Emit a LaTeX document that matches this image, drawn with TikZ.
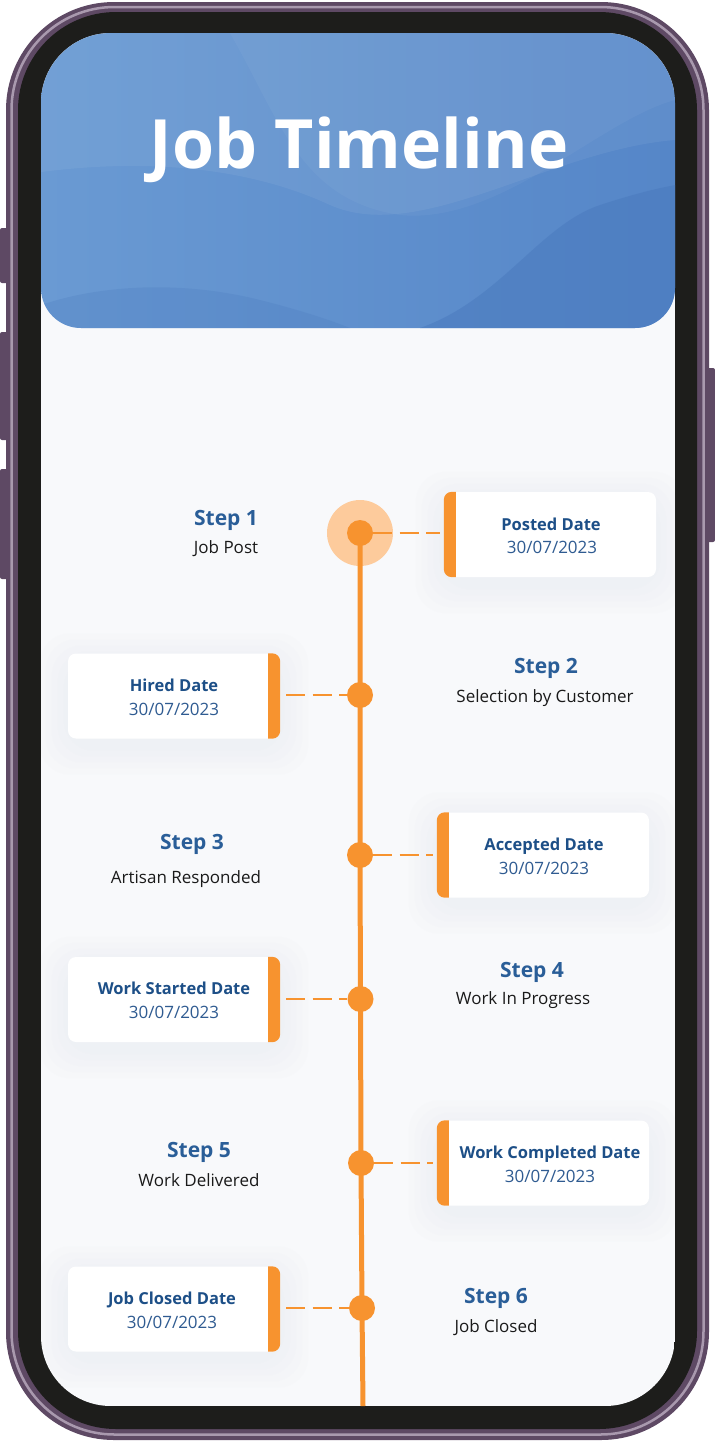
\documentclass[tikz,border=0pt]{standalone}
\usepackage{fontspec}
\setmainfont{Open Sans}
\usetikzlibrary{calc}
\definecolor{orng}{HTML}{F7932F}
\definecolor{halo}{HTML}{FDCB9C}
\definecolor{frameP}{HTML}{5E4964}
\definecolor{frameL}{HTML}{A999AE}
\definecolor{bezel}{HTML}{1D1D1B}
\definecolor{screenbg}{HTML}{F8F9FB}
\definecolor{hdrL}{HTML}{6A9AD3}
\definecolor{hdrR}{HTML}{5586C8}
\definecolor{hdrD}{HTML}{4A7ABE}
\definecolor{stepblue}{HTML}{2A5E98}
\definecolor{cardblue}{HTML}{1D4F87}
\definecolor{dateblue}{HTML}{2F5B91}
\definecolor{subtxt}{HTML}{1A1A1A}
\definecolor{shad}{HTML}{E3E7EE}
\pgfdeclarelayer{back}
\pgfdeclarelayer{shadow}
\pgfsetlayers{back,shadow,main}
\newcommand\cshadow[1]{%
  \begin{pgfonlayer}{shadow}
  \begin{scope}
  \clip[rounded corners=70pt] (41,33) rectangle (675,1406);
  \foreach \d in {28,22,16,10,4}{
    \fill[shad, opacity=0.08, rounded corners=30pt] ($(#1.north west)+(-\d,-\d+8)$) rectangle ($(#1.south east)+(\d,\d+8)$);
  }
  \end{scope}
  \end{pgfonlayer}}
\newcommand\barleft[1]{%
  \fill[orng] ($(#1.north west)+(12,0)$) [rounded corners=8pt] -- (#1.north west) -- (#1.south west) [sharp corners] -- ($(#1.south west)+(12,0)$) -- cycle;}
\newcommand\barright[1]{%
  \fill[orng] ($(#1.north east)+(-12,0)$) [rounded corners=8pt] -- (#1.north east) -- (#1.south east) [sharp corners] -- ($(#1.south east)+(-12,0)$) -- cycle;}
\begin{document}
\begin{tikzpicture}[x=1pt,y=-1pt,
  stepttl/.style={anchor=base, text=stepblue, font=\fontsize{21}{24}\selectfont\bfseries},
  stepsub/.style={anchor=base, text=subtxt, font=\fontsize{17}{20}\selectfont},
  cardttl/.style={anchor=base, text=cardblue, font=\fontsize{16.5}{20}\selectfont\bfseries},
  carddate/.style={anchor=base, text=dateblue, font=\fontsize{17}{20}\selectfont},
  dotnode/.style={circle, fill=orng, minimum size=26pt, inner sep=0pt},
  dashline/.style={draw=orng, line width=2pt, dash pattern=on 19pt off 7.5pt},
  cardbase/.style={rectangle, rounded corners=8pt, fill=white, minimum width=212pt, minimum height=85pt, inner sep=0pt},
  button/.style={fill=frameP, rounded corners=2pt}
]
\useasboundingbox (0,0) rectangle (715,1441);

\begin{pgfonlayer}{back}
% side buttons
\fill[button] (0,228) rectangle (10,283);
\fill[button] (0,332) rectangle (10,440);
\fill[button] (0,469) rectangle (10,579);
\fill[button] (705,368) rectangle (715,542);
% phone frame
\fill[frameP, rounded corners=108pt] (6,2) rectangle (709,1440);
\draw[frameL, line width=2.5pt, rounded corners=103pt] (11.5,7) rectangle (703.5,1434.5);
\fill[bezel, rounded corners=98pt] (18,12) rectangle (697,1429);
% screen
\begin{scope}
  \clip[rounded corners=70pt] (41,33) rectangle (675,1406);
  \fill[screenbg] (41,33) rectangle (675,1406);
  \begin{scope}
    \clip[rounded corners=40pt] (41,0) rectangle (675,328);
    \shade[left color=hdrL, right color=hdrR] (41,0) rectangle (675,328);
    \fill[white, opacity=0.06] (41,33) -- (41,172) .. controls (150,158) and (250,168) .. (330,205) .. controls (420,245) and (550,150) .. (675,140) -- (675,33) -- cycle;
    \fill[white, opacity=0.04] (230,33) .. controls (280,120) and (300,200) .. (400,215) .. controls (500,225) and (600,120) .. (675,100) -- (675,33) -- cycle;
    \fill[hdrD, opacity=0.55] (420,328) .. controls (500,300) and (540,225) .. (600,205) .. controls (640,192) and (660,188) .. (675,185) -- (675,328) -- cycle;
    \fill[hdrD, opacity=0.25] (41,305) .. controls (100,285) and (180,280) .. (260,300) .. controls (300,310) and (330,320) .. (350,328) -- (41,328) -- cycle;
  \end{scope}
\end{scope}
\end{pgfonlayer}

\node[anchor=base, text=white, font=\fontsize{68}{80}\selectfont\bfseries] (title) at (359,168) {Job Timeline};

% timeline
\coordinate (p1) at (360,533);
\coordinate (p2) at (360,695);
\coordinate (p3) at (360,855);
\coordinate (p4) at (360.5,999);
\coordinate (p5) at (361,1163);
\coordinate (p6) at (362,1308);
\coordinate (pend) at (363,1406);
\node[circle, fill=halo, minimum size=66pt, inner sep=0pt] (halo1) at (p1) {};
\draw[orng, line width=5pt] (p1) -- (p2) -- (p3) -- (p4) -- (p5) -- (p6) -- (pend);
\node[dotnode] (d1) at (p1) {};
\node[dotnode] (d2) at (p2) {};
\node[dotnode] (d3) at (p3) {};
\node[dotnode] (d4) at (p4) {};
\node[dotnode] (d5) at (p5) {};
\node[dotnode] (d6) at (p6) {};

% cards
\node[cardbase] (c1) at (550,534.5) {};
\node[cardbase] (c2) at (174,696) {};
\node[cardbase] (c3) at (543,855) {};
\node[cardbase] (c4) at (174,999.5) {};
\node[cardbase] (c5) at (543,1163) {};
\node[cardbase] (c6) at (174,1309) {};
\barleft{c1}\barright{c2}\barleft{c3}\barright{c4}\barleft{c5}\barright{c6}
\cshadow{c1}\cshadow{c2}\cshadow{c3}\cshadow{c4}\cshadow{c5}\cshadow{c6}

\node[cardttl] (c1t) at (551,530) {Posted Date};
\node[carddate] (c1d) at (552,553) {30/07/2023};
\node[cardttl] (c2t) at (174,691) {Hired Date};
\node[carddate] (c2d) at (174,715) {30/07/2023};
\node[cardttl] (c3t) at (544,850) {Accepted Date};
\node[carddate] (c3d) at (544,874) {30/07/2023};
\node[cardttl] (c4t) at (174,994) {Work Started Date};
\node[carddate] (c4d) at (174,1018) {30/07/2023};
\node[cardttl] (c5t) at (550,1158) {Work Completed Date};
\node[carddate] (c5d) at (550,1182) {30/07/2023};
\node[cardttl] (c6t) at (172,1304) {Job Closed Date};
\node[carddate] (c6d) at (172,1328) {30/07/2023};

% dashed connectors
\draw[dashline] (d1.east) -- ([xshift=-4pt]d1.east -| c1.west);
\draw[dashline] ([xshift=6pt]d2.west -| c2.east) -- (d2.west);
\draw[dashline] (d3.east) -- ([xshift=-4pt]d3.east -| c3.west);
\draw[dashline] ([xshift=6pt]d4.west -| c4.east) -- (d4.west);
\draw[dashline] (d5.east) -- ([xshift=-4pt]d5.east -| c5.west);
\draw[dashline] ([xshift=6pt]d6.west -| c6.east) -- (d6.west);

% step labels
\node[stepttl] (s1) at (226,525.5) {Step 1};
\node[stepsub] (s1s) at (226,553) {Job Post};
\node[stepttl] (s2) at (546,673.5) {Step 2};
\node[stepsub] (s2s) at (545,702) {Selection by Customer};
\node[stepttl] (s3) at (192,849.5) {Step 3};
\node[stepsub] (s3s) at (186,883) {Artisan Responded};
\node[stepttl] (s4) at (532,977.5) {Step 4};
\node[stepsub] (s4s) at (523,1004) {Work In Progress};
\node[stepttl] (s5) at (199,1157.5) {Step 5};
\node[stepsub] (s5s) at (199,1186) {Work Delivered};
\node[stepttl] (s6) at (496,1303.5) {Step 6};
\node[stepsub] (s6s) at (496,1332) {Job Closed};
\end{tikzpicture}
\end{document}
